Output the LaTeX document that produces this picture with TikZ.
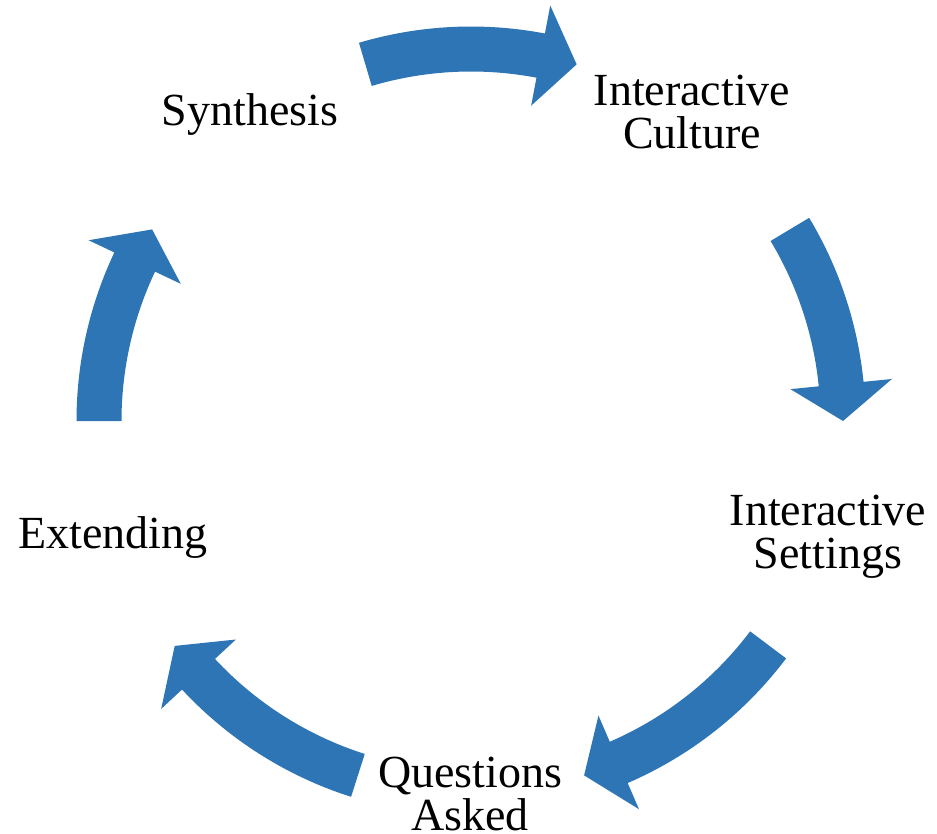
\documentclass[tikz,border=0pt]{standalone}
\usepackage{fontspec}
\setmainfont{Liberation Serif}
\definecolor{cycleblue}{HTML}{2E75B6}
% curved block arrow on the cycle ring: #1 = tail angle, #2 = tip angle (clockwise)
\newcommand{\cyclearrow}[2]{%
  \pgfmathsetmacro{\headang}{#2+5.7}%
  \fill[cycleblue] (#1:394.5pt) arc[start angle=#1, end angle=\headang, radius=394.5pt]
    -- (\headang:423pt) -- (#2:372pt) -- (\headang:321pt) -- (\headang:349.5pt)
    arc[start angle=\headang, end angle=#1, radius=349.5pt] -- cycle;}
\begin{document}
\begin{tikzpicture}[x=1pt,y=1pt,
  lbl/.style={align=center,inner sep=0pt,font=\fontsize{46}{43}\selectfont}]
\useasboundingbox (0,0) rectangle (937,-833);
\begin{scope}[shift={(471,-421)}]
  \cyclearrow{106.5}{73.5}
  \cyclearrow{31}{0}
  \cyclearrow{-37}{-72.3}
  \cyclearrow{-107.7}{-142.8}
  \cyclearrow{180}{149}
\end{scope}
\node[lbl] (synth) at (250,-115) {Synthesis};
\node[lbl] (culture) at (692,-112) {Interactive\\Culture};
\node[lbl] (settings) at (828,-537) {Interactive\\Settings};
\node[lbl] (questions) at (470,-794) {Questions\\Asked};
\node[lbl] (extend) at (113,-537) {Extending};
\end{tikzpicture}
\end{document}
